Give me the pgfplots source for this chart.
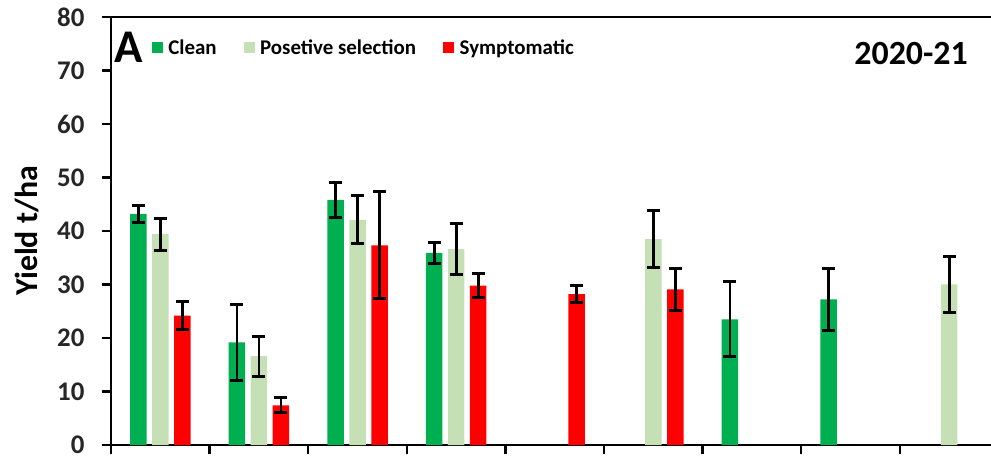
\documentclass[border=0pt]{standalone}
\usepackage{pgfplots}
\pgfplotsset{compat=1.18}
\usepackage{pgfplotstable}
\usepackage{fontspec}
\setmainfont{Carlito}
\definecolor{cclean}{HTML}{00B050}
\definecolor{cpos}{HTML}{C5E0B4}
\definecolor{csym}{HTML}{FF0000}

\pgfplotstableread{
x y e
0 43.2 1.65
1 19.2 7.1
2 45.8 3.3
3 35.9 2.0
6 23.5 7.0
7 27.2 5.8
}\clean
\pgfplotstableread{
x y e
0 39.4 3.0
1 16.6 3.75
2 42.1 4.5
3 36.6 4.75
5 38.5 5.4
8 30.0 5.25
}\posel
\pgfplotstableread{
x y e
0 24.2 2.6
1 7.4 1.4
2 37.3 10.0
3 29.8 2.3
4 28.2 1.6
5 29.1 3.9
}\sympt

\begin{document}
\begin{tikzpicture}
\begin{axis}[
  width=890bp, height=428bp, scale only axis,
  xmin=-0.5, xmax=8.526, ymin=0, ymax=80,
  xtick={-0.5,0.5,...,7.5}, xticklabels={},
  ytick={0,10,...,80},
  xtick pos=bottom, ytick pos=left,
  tick align=outside,
  major tick length=9bp,
  axis line style={line width=2.5bp, black},
  every tick/.style={line width=2.5bp, black},
  /pgf/number format/assume math mode=true,
  yticklabel style={font=\fontsize{27}{27}\selectfont\bfseries, text=black!85, xshift=-14bp},
  ylabel={Yield t/ha},
  ylabel style={font=\fontsize{32}{32}\selectfont\bfseries, at={(axis description cs:-0.0948,0.5)}, anchor=center},
  legend style={draw=none, fill=none, at={(rel axis cs:0.0457,0.9276)}, anchor=west,
    font=\fontsize{21}{21}\selectfont\bfseries, inner sep=0pt,
    nodes={inner sep=0pt},
    /tikz/every odd column/.append style={column sep=5.5bp},
    /tikz/every even column/.append style={column sep=27bp}},
  legend columns=3,
  legend image code/.code={\fill[#1] (0bp,-5.5bp) rectangle (11bp,5.5bp);},
  error bars/error bar style={line width=2.8bp, black},
]
\addplot[ybar, bar width=16.5bp, bar shift=0bp, fill=cclean, draw=none,
  error bars/.cd, y dir=both, y explicit,
  error mark options={rotate=90, mark size=6.5bp, line width=3bp, draw=black}]
  table[x expr=\thisrow{x}-0.2231, y=y, y error=e] {\clean};
\addlegendentry{Clean}
\addplot[ybar, bar width=16.5bp, bar shift=0bp, fill=cpos, draw=none,
  error bars/.cd, y dir=both, y explicit,
  error mark options={rotate=90, mark size=6.5bp, line width=3bp, draw=black}]
  table[x=x, y=y, y error=e] {\posel};
\addlegendentry{Posetive selection}
\addplot[ybar, bar width=16.5bp, bar shift=0bp, fill=csym, draw=none,
  error bars/.cd, y dir=both, y explicit,
  error mark options={rotate=90, mark size=6.5bp, line width=3bp, draw=black}]
  table[x expr=\thisrow{x}+0.2231, y=y, y error=e] {\sympt};
\addlegendentry{Symptomatic}
\node[font=\fontsize{47}{47}\selectfont\bfseries, anchor=center] at (rel axis cs:0.0194,0.930) {A};
\node[font=\fontsize{34}{34}\selectfont\bfseries, anchor=center] at (rel axis cs:0.899,0.9136) {2020-21};
\end{axis}
\pgfresetboundingbox
\useasboundingbox (-111bp,-13bp) rectangle (880bp,445bp);
\end{tikzpicture}
\end{document}
